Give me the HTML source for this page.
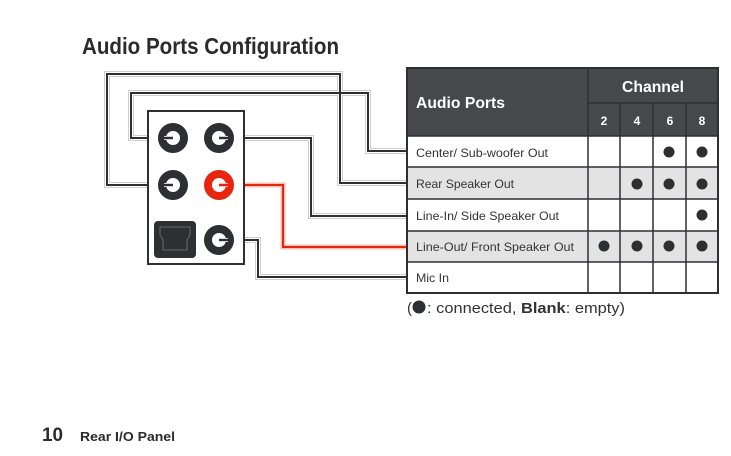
<!DOCTYPE html>
<html><head><meta charset="utf-8"><style>
html,body{margin:0;padding:0;background:#fff;}
svg{display:block;font-family:"Liberation Sans",sans-serif;}
</style></head><body>
<svg width="731" height="456" viewBox="0 0 731 456">
<text x="82" y="54" font-size="23" font-weight="bold" fill="#2b2b2b" textLength="257" lengthAdjust="spacingAndGlyphs">Audio Ports Configuration</text>

<g fill="none" stroke-linejoin="miter">
<g stroke="#cfcfcf" stroke-width="6">
<path d="M173,185 H107 V74 H340 V183 H408"/>
<path d="M173,138 H131 V93 H368 V151 H408"/>
<path d="M219,138 H311 V216 H408"/>
<path d="M219,240 H258 V277 H408"/>
</g>
<g stroke="#ffffff" stroke-width="4">
<path d="M173,185 H107 V74 H340 V183 H408"/>
<path d="M173,138 H131 V93 H368 V151 H408"/>
<path d="M219,138 H311 V216 H408"/>
<path d="M219,240 H258 V277 H408"/>
</g>
<g stroke="#2e2f33" stroke-width="2">
<path d="M173,185 H107 V74 H340 V183 H408"/>
<path d="M173,138 H131 V93 H368 V151 H408"/>
<path d="M219,138 H311 V216 H408"/>
<path d="M219,240 H258 V277 H408"/>
</g>
<path d="M219,185 H283 V247 H408" stroke="#f6c0b6" stroke-width="5"/>
<path d="M219,185 H283 V247 H408" stroke="#e8260f" stroke-width="2"/>
</g>

<rect x="148" y="111" width="96" height="153" fill="#fff" stroke="#2e2f33" stroke-width="2"/>
<g fill="#fff" stroke-width="8">
<circle cx="173" cy="138" r="11" stroke="#2e2f33"/>
<circle cx="219" cy="138" r="11" stroke="#2e2f33"/>
<circle cx="173" cy="185" r="11" stroke="#2e2f33"/>
<circle cx="219" cy="185" r="11" stroke="#e8260f"/>
<circle cx="219" cy="240" r="11" stroke="#2e2f33"/>
</g>
<g fill="none">
<path d="M173,185 H164" stroke="#d0d0d0" stroke-width="4"/>
<path d="M173,138 H164" stroke="#d0d0d0" stroke-width="4"/>
<path d="M219,138 H228" stroke="#d0d0d0" stroke-width="4"/>
<path d="M219,240 H228" stroke="#d0d0d0" stroke-width="4"/>
<path d="M219,185 H228" stroke="#f6c0b6" stroke-width="4"/>
<path d="M173,185 H164" stroke="#2e2f33" stroke-width="2"/>
<path d="M173,138 H164" stroke="#2e2f33" stroke-width="2"/>
<path d="M219,138 H228" stroke="#2e2f33" stroke-width="2"/>
<path d="M219,240 H228" stroke="#2e2f33" stroke-width="2"/>
<path d="M219,185 H228" stroke="#e8260f" stroke-width="2"/>
</g>
<rect x="154" y="221" width="42" height="37" rx="4" fill="#2e2f33"/>
<path d="M160,227 H190 V235 L187,240 V250 H163 V240 L160,235 Z" fill="none" stroke="#6a6a6a" stroke-width="1"/>

<rect x="407" y="68" width="311" height="68" fill="#47484c"/>
<rect x="407" y="167" width="311" height="32" fill="#e3e3e3"/>
<rect x="407" y="231" width="311" height="31" fill="#e3e3e3"/>
<g stroke="#2e2f33" stroke-width="1.5" fill="none">
<rect x="407" y="68" width="311" height="225" stroke-width="2"/>
<line x1="407" y1="136" x2="718" y2="136"/>
<line x1="407" y1="167" x2="718" y2="167"/>
<line x1="407" y1="199" x2="718" y2="199"/>
<line x1="407" y1="231" x2="718" y2="231"/>
<line x1="407" y1="262" x2="718" y2="262"/>
<line x1="588" y1="68" x2="588" y2="293"/>
<line x1="620" y1="103" x2="620" y2="293"/>
<line x1="653" y1="103" x2="653" y2="293"/>
<line x1="686" y1="103" x2="686" y2="293"/>
<line x1="588" y1="103" x2="718" y2="103"/>
</g>
<g fill="#fff" font-weight="bold">
<text x="416" y="108" font-size="16" textLength="89" lengthAdjust="spacingAndGlyphs">Audio Ports</text>
<text x="653" y="92" font-size="16" text-anchor="middle" textLength="62" lengthAdjust="spacingAndGlyphs">Channel</text>
<text x="604" y="125" font-size="12" text-anchor="middle">2</text>
<text x="637" y="125" font-size="12" text-anchor="middle">4</text>
<text x="670" y="125" font-size="12" text-anchor="middle">6</text>
<text x="702" y="125" font-size="12" text-anchor="middle">8</text>
</g>
<g fill="#333" font-size="12">
<text x="416" y="157" textLength="132" lengthAdjust="spacingAndGlyphs">Center/ Sub-woofer Out</text>
<text x="416" y="188" textLength="98" lengthAdjust="spacingAndGlyphs">Rear Speaker Out</text>
<text x="416" y="220" textLength="143" lengthAdjust="spacingAndGlyphs">Line-In/ Side Speaker Out</text>
<text x="416" y="251" textLength="158" lengthAdjust="spacingAndGlyphs">Line-Out/ Front Speaker Out</text>
<text x="416" y="282" textLength="33" lengthAdjust="spacingAndGlyphs">Mic In</text>
</g>
<g fill="#2e2f33">
<circle cx="669" cy="152" r="5.5"/><circle cx="702" cy="152" r="5.5"/>
<circle cx="637" cy="184" r="5.5"/><circle cx="669" cy="184" r="5.5"/><circle cx="702" cy="184" r="5.5"/>
<circle cx="702" cy="215" r="5.5"/>
<circle cx="604" cy="246" r="5.5"/><circle cx="637" cy="246" r="5.5"/><circle cx="669" cy="246" r="5.5"/><circle cx="702" cy="246" r="5.5"/>
</g>
<text x="407" y="313" font-size="15" fill="#333">(</text>
<circle cx="419" cy="307" r="6.5" fill="#2e2f33"/>
<text x="427" y="313" font-size="15" fill="#333" textLength="198" lengthAdjust="spacingAndGlyphs">: connected, <tspan font-weight="bold">Blank</tspan>: empty)</text>

<text x="42" y="441" font-size="19" font-weight="bold" fill="#2b2b2b" textLength="21" lengthAdjust="spacingAndGlyphs">10</text>
<text x="80" y="441" font-size="13" font-weight="bold" fill="#2b2b2b" textLength="95" lengthAdjust="spacingAndGlyphs">Rear I/O Panel</text>
</svg>
</body></html>
